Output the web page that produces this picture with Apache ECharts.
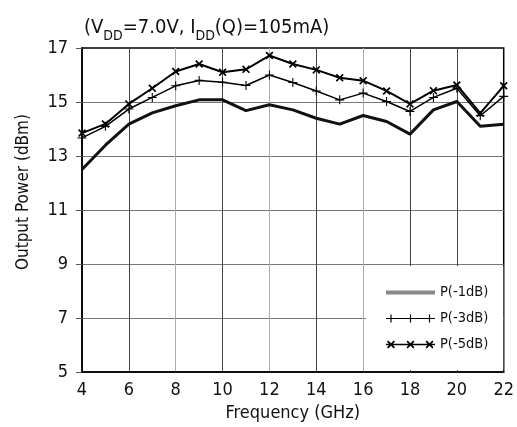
<!DOCTYPE html>
<html><head><meta charset="utf-8">
<script src="https://cdn.jsdelivr.net/npm/echarts@6/dist/echarts.min.js"></script>
<style>html,body{margin:0;padding:0;background:#fff}#c{width:517px;height:427px}</style>
</head><body><div id="c"></div>
<script>
const freqs = [4,5,6,7,8,9,10,11,12,13,14,15,16,17,18,19,20,21,22];
const p1dB = [12.5,13.4,14.18,14.6,14.86,15.08,15.08,14.68,14.9,14.71,14.4,14.18,14.5,14.28,13.81,14.71,15.02,14.1,14.18];
const p3dB = [13.67,14.1,14.74,15.17,15.6,15.8,15.73,15.61,16.0,15.72,15.41,15.08,15.33,15.02,14.65,15.17,15.51,14.49,15.21];
const p5dB = [13.85,14.19,14.93,15.51,16.13,16.41,16.1,16.21,16.72,16.41,16.19,15.9,15.79,15.41,14.93,15.42,15.63,14.59,15.6];
const seriesNames = ['P(-1dB)','P(-3dB)','P(-5dB)'];
const titleText = '(V{s|DD}=7.0V, I{s|DD}(Q)=105mA)';
const xName = 'Frequency (GHz)';
const yName = 'Output Power (dBm)';

const FONT = "'Liberation Sans Narrow','DejaVu Sans Condensed','Roboto Condensed',sans-serif";
const pair = (ys) => freqs.map((f,i)=>[f, ys[i]]);
const plusPath = 'path://M4.4 0H5.6V4.4H10V5.6H5.6V10H4.4V5.6H0V4.4H4.4Z';
const xPath = 'path://M0 1.5L1.5 0L5 3.5L8.5 0L10 1.5L6.5 5L10 8.5L8.5 10L5 6.5L1.5 10L0 8.5L3.5 5Z';
const legLine = 'path://M0 0H49V4H0Z';
const legPlus = 'path://M0 3.4H49V4.6H0Z M4.4 0H5.6V8H4.4Z M23.9 0H25.1V8H23.9Z M42.9 0H44.1V8H42.9Z';
function xm(cx){const o=cx-4;return `M${o} 1.2L${o+1.2} 0L${o+4} 2.8L${o+6.8} 0L${o+8} 1.2L${o+5.2} 4L${o+8} 6.8L${o+6.8} 8L${o+4} 5.2L${o+1.2} 8L${o} 6.8L${o+2.8} 4Z`;}
const legX = 'path://M0 3.2H49V4.8H0Z ' + xm(5) + ' ' + xm(24.5) + ' ' + xm(43.5);

const chart = echarts.init(document.getElementById('c'));
chart.setOption({
  animation:false,
  backgroundColor:'#fff',
  textStyle:{fontFamily:FONT},
  title:{
    text:titleText, left:79, top:8,
    textStyle:{fontFamily:FONT, fontSize:20, fontWeight:'normal', color:'#111',
      rich:{s:{fontFamily:FONT, fontSize:14, color:'#111', padding:[16,0,0,0]}}}
  },
  grid:{left:82, right:12, top:48, bottom:54, show:true, borderColor:'#000', borderWidth:1.5, containLabel:false},
  legend:{
    z:20,
    left:366, top:266, orient:'vertical', backgroundColor:'#ffffff', borderWidth:0,
    padding:[19,15,18,20], itemGap:11, itemWidth:49, itemHeight:14,
    textStyle:{fontFamily:FONT, fontSize:14.5, color:'#111'},
    data:[
      {name:seriesNames[0], icon:legLine, itemStyle:{color:'#888'}},
      {name:seriesNames[1], icon:legPlus, itemStyle:{color:'#000'}},
      {name:seriesNames[2], icon:legX, itemStyle:{color:'#000'}}
    ]
  },
  xAxis:{
    type:'value', min:4, max:22, interval:2, z:0,
    name:xName, nameLocation:'middle', nameGap:27,
    nameTextStyle:{fontFamily:FONT, fontSize:18, color:'#111'},
    axisLine:{lineStyle:{color:'#000', width:1.5}},
    axisTick:{show:false},
    axisLabel:{fontFamily:FONT, fontSize:18, color:'#111', margin:9},
    splitLine:{show:true, showMinLine:false, showMaxLine:false,
      lineStyle:{color:['#444','#aaa','#444','#aaa','#444','#aaa','#444','#444'], width:1}}
  },
  yAxis:{
    type:'value', min:5, max:17, interval:2, z:0,
    name:yName, nameLocation:'middle', nameGap:50,
    nameTextStyle:{fontFamily:FONT, fontSize:17, color:'#111', padding:[0,0,0,36]},
    axisLine:{show:true, lineStyle:{color:'#000', width:1.5}},
    axisTick:{show:true, length:6, inside:false, lineStyle:{color:'#555'}},
    axisLabel:{fontFamily:FONT, fontSize:18, color:'#111', margin:14},
    splitLine:{show:true, showMinLine:false, showMaxLine:false, lineStyle:{color:'#777', width:1}}
  },
  series:[
    {name:seriesNames[0], type:'line', data:pair(p1dB), symbol:'none',
      lineStyle:{color:'#111', width:3}, itemStyle:{color:'#111'}, z:3},
    {name:seriesNames[1], type:'line', data:pair(p3dB), symbol:plusPath, symbolSize:9,
      lineStyle:{color:'#000', width:1.5}, itemStyle:{color:'#000'}, z:4},
    {name:seriesNames[2], type:'line', data:pair(p5dB), symbol:xPath, symbolSize:8,
      lineStyle:{color:'#000', width:2}, itemStyle:{color:'#000'}, z:5}
  ]
});
</script></body></html>
